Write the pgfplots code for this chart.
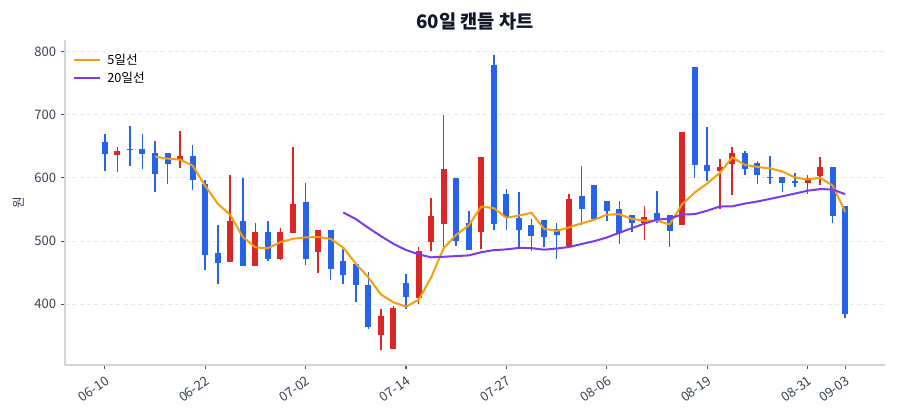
\documentclass[border=0pt]{standalone}
\usepackage{fontspec}
\setmainfont{Noto Sans CJK KR}
\usepackage{pgfplots}
\usepackage{pgfplotstable}
\pgfplotsset{compat=1.18}

\definecolor{upred}{HTML}{DC2626}
\definecolor{downblue}{HTML}{2563EB}
\definecolor{maorange}{HTML}{F59E0B}
\definecolor{mapurple}{HTML}{7C3AED}
\definecolor{spine}{HTML}{D1D5DB}
\definecolor{tickc}{HTML}{4B5563}
\definecolor{labelc}{HTML}{374151}
\definecolor{gridc}{HTML}{E5E7EB}
\definecolor{titlec}{HTML}{111827}

% candles: index, open, high, low, close
\pgfplotstableread{
i o h l c
1 636 649 610 642
6 628 674 616 634
10 467 604 467 532
12 461 529 461 515
14 472 520 470 514
15 513 649 513 558
17 482 518 450 518
22 352 393 327 382
23 329 397 329 394
25 410 490 401 484
26 498 568 484 540
27 527 700 484 614
30 515 633 488 633
37 492 574 492 566
43 529 555 501 538
46 525 673 525 673
49 611 630 551 617
50 622 649 573 640
56 592 604 575 599
57 603 633 589 617
}\upcandles

\pgfplotstableread{
i o h l c
0 657 670 611 638
2 646 682 619 644
3 646 669 614 638
4 640 658 578 606
5 639 640 590 622
7 634 652 580 597
8 591 597 455 478
9 481 526 432 465
11 532 600 460 460
13 515 532 468 471
16 562 592 462 471
18 517 517 438 456
19 468 487 432 446
20 463 463 404 430
21 430 451 361 364
24 433 448 393 411
28 600 600 492 500
29 529 547 486 486
31 778 794 518 527
32 574 583 517 538
33 537 577 490 518
34 525 535 485 508
35 533 533 490 506
36 519 528 472 510
38 571 619 525 551
39 588 588 535 535
40 564 564 532 547
41 551 563 495 513
42 542 542 514 529
44 545 579 528 535
45 541 541 490 516
47 776 776 600 621
48 620 681 595 611
51 640 642 605 614
52 623 627 590 604
53 602 635 591 600
54 601 601 577 592
55 595 607 585 592
58 617 617 529 539
59 555 555 378 384
}\downcandles

\begin{document}
\begin{tikzpicture}
\path[use as bounding box] (-48.75pt,-41.25pt) rectangle (626.25pt,273.75pt);
\begin{axis}[
    at={(0,0)}, anchor=south west,
    scale only axis,
    width=615pt, height=243.75pt,
    xmin=-3.17, xmax=62.17,
    ymin=304, ymax=818,
    axis x line*=bottom, axis y line*=left,
    axis line style={draw=spine, line width=0.9pt, -},
    xtick={0,8,16,24,32,40,48,56,59},
    xticklabels={06-10,06-22,07-02,07-14,07-27,08-06,08-19,08-31,09-03},
    ytick={400,500,600,700,800},
    tick align=outside,
    major tick length=3.2pt,
    tick style={draw=tickc, line width=0.8pt},
    ymajorgrids,
    grid style={draw=gridc, line width=0.6pt, dash pattern=on 3pt off 2.5pt},
    tick label style={font=\fontsize{9.8}{11}\selectfont, text=labelc},
    /pgf/number format/assume math mode=true,
    xticklabel style={rotate=35, anchor=north east, inner sep=1pt, xshift=-1.5pt, yshift=-2.5pt},
    ylabel={원},
    ylabel style={at={(axis description cs:-0.057,0.5)}, anchor=center, font=\fontsize{9.5}{11}\selectfont, text=labelc},
    legend style={draw=none, fill=none, at={(0.005,0.975)}, anchor=north west,
        font=\fontsize{9.5}{11}\selectfont, row sep=0.5pt, cells={anchor=west},
        /tikz/every odd column/.append style={column sep=3pt}},
    legend image code/.code={\draw[#1, line width=1.5pt] (0pt,0pt) -- (19pt,0pt);},
]

% wicks
\addplot[draw=none, mark=none, forget plot,
    error bars/.cd, y dir=plus, y explicit, error mark=none,
    error bar style={draw=upred, line width=1.2pt}]
    table[x=i, y=l, y error expr=\thisrow{h}-\thisrow{l}] {\upcandles};
\addplot[draw=none, mark=none, forget plot,
    error bars/.cd, y dir=plus, y explicit, error mark=none,
    error bar style={draw=downblue, line width=1.2pt}]
    table[x=i, y=l, y error expr=\thisrow{h}-\thisrow{l}] {\downcandles};

% bodies
\addplot[draw=none, mark=none, forget plot,
    error bars/.cd, y dir=plus, y explicit, error mark=none,
    error bar style={draw=upred, line width=4.5pt}]
    table[x=i, y=o, y error expr=\thisrow{c}-\thisrow{o}] {\upcandles};
\addplot[draw=none, mark=none, forget plot,
    error bars/.cd, y dir=plus, y explicit, error mark=none,
    error bar style={draw=downblue, line width=4.5pt}]
    table[x=i, y=c, y error expr=\thisrow{o}-\thisrow{c}] {\downcandles};

% moving averages
\addplot[maorange, line width=1.5pt, line join=round] coordinates {
(4,633.6) (5,630.4) (6,628.8) (7,619.4) (8,587.4) (9,559.2) (10,541.2) (11,506.4)
(12,490.0) (13,488.6) (14,498.4) (15,503.6) (16,505.8) (17,506.4) (18,503.4) (19,489.8)
(20,464.2) (21,442.8) (22,415.6) (23,403.2) (24,396.2) (25,407.0) (26,442.2) (27,488.6)
(28,509.8) (29,524.8) (30,554.6) (31,552.0) (32,536.8) (33,540.4) (34,544.8) (35,519.4)
(36,516.0) (37,521.6) (38,528.2) (39,533.6) (40,541.8) (41,542.4) (42,535.0) (43,532.4)
(44,532.4) (45,526.2) (46,558.2) (47,576.6) (48,591.2) (49,607.6) (50,632.4) (51,620.6)
(52,617.2) (53,615.0) (54,610.0) (55,600.4) (56,597.4) (57,600.0) (58,587.8) (59,546.2)
};
\addlegendentry{5일선}
\addplot[mapurple, line width=1.5pt, line join=round] coordinates {
(19,545.25) (20,534.85) (21,520.95) (22,507.85) (23,495.65) (24,485.9) (25,479.0)
(26,474.3) (27,475.15) (28,476.25) (29,477.3) (30,482.35) (31,485.7) (32,486.85)
(33,489.2) (34,488.9) (35,486.3) (36,488.25) (37,490.65) (38,495.4) (39,499.85)
(40,505.7) (41,513.15) (42,520.5) (43,527.7) (44,533.9) (45,535.5) (46,542.15)
(47,542.5) (48,548.05) (49,554.6) (50,554.95) (51,559.3) (52,562.6) (53,566.7)
(54,570.9) (55,575.2) (56,579.65) (57,582.2) (58,581.6) (59,574.05)
};
\addlegendentry{20일선}
\end{axis}
\node[font=\bfseries\fontsize{14}{16}\selectfont, text=titlec] at (307.5pt,257.25pt) {60일 캔들 차트};
\end{tikzpicture}
\end{document}
